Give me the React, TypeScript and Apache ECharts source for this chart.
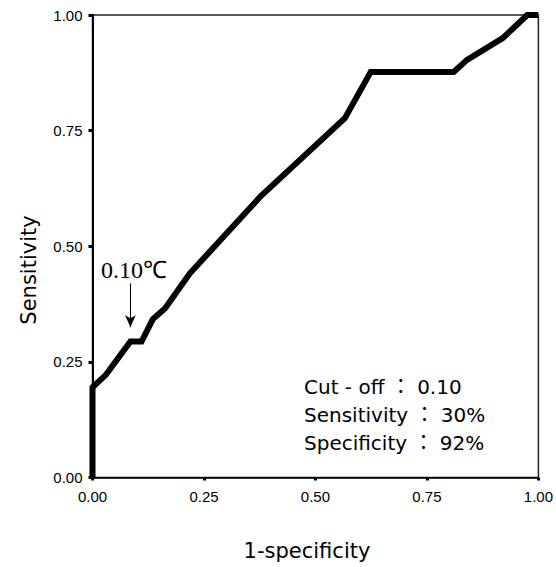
import React, { useEffect, useRef } from "react";
import * as echarts from "echarts";

const fpr = [0, 0, 0.03, 0.085, 0.11, 0.135, 0.163, 0.218, 0.377, 0.566, 0.624, 0.81, 0.84, 0.92, 0.975, 1.0];
const tpr = [0, 0.195, 0.222, 0.294, 0.294, 0.342, 0.366, 0.441, 0.608, 0.777, 0.877, 0.877, 0.903, 0.95, 1.0, 1.0];
const arrowFrom = [0.085, 0.42];
const arrowTo = [0.085, 0.325];
const noteLines = ["Cut - off ： 0.10", "Sensitivity ： 30%", "Specificity ： 92%"];
const cutoffLabel = "0.10℃";

export default function App() {
  const ref = useRef<HTMLDivElement>(null);
  useEffect(() => {
    if (!ref.current) return;
    const chart = echarts.init(ref.current, null, { renderer: "svg" });
    const data = fpr.map((x, i) => [x, tpr[i]]);
    chart.setOption({
      animation: false,
      backgroundColor: "#ffffff",
      grid: {
        left: 92.5,
        top: 15,
        width: 446.5,
        height: 462.5,
        show: true,
        borderColor: "#222",
        borderWidth: 1.5,
      },
      xAxis: {
        type: "value",
        min: 0,
        max: 1,
        interval: 0.25,
        splitLine: { show: false },
        axisLine: { lineStyle: { color: "#000", width: 1.5 } },
        axisTick: { length: 3, lineStyle: { color: "#000", width: 3 } },
        axisLabel: {
          color: "#000",
          fontSize: 15,
          fontFamily: "Liberation Sans",
          margin: 11,
          formatter: (v: number) => v.toFixed(2),
        },
      },
      yAxis: {
        type: "value",
        min: 0,
        max: 1,
        interval: 0.25,
        splitLine: { show: false },
        axisLine: { lineStyle: { color: "#000", width: 2 } },
        axisTick: { length: 4, lineStyle: { color: "#000", width: 3 } },
        axisLabel: {
          color: "#000",
          fontSize: 15,
          fontFamily: "Liberation Sans",
          margin: 10,
          formatter: (v: number) => v.toFixed(2),
        },
      },
      series: [
        {
          type: "line",
          data,
          symbol: "none",
          clip: false,
          lineStyle: { color: "#000", width: 6, join: "miter" },
          markLine: {
            silent: true,
            symbol: ["none", "arrow"],
            symbolSize: [8, 12],
            label: { show: false },
            lineStyle: { color: "#000", width: 1, type: "solid" },
            data: [[{ coord: arrowFrom }, { coord: arrowTo }]],
          },
        },
      ],
      graphic: [
        {
          type: "text",
          x: 29,
          y: 270,
          rotation: Math.PI / 2,
          style: {
            text: "Sensitivity",
            align: "center",
            verticalAlign: "middle",
            fontSize: 21,
            fontFamily: "DejaVu Sans",
            fill: "#000",
          },
        },
        {
          type: "text",
          x: 307,
          y: 551,
          style: {
            text: "1-specificity",
            align: "center",
            verticalAlign: "middle",
            fontSize: 21,
            fontFamily: "DejaVu Sans",
            fill: "#000",
          },
        },
        {
          type: "text",
          x: 101,
          y: 270,
          style: {
            text: cutoffLabel,
            align: "left",
            verticalAlign: "middle",
            fontSize: 24,
            fontFamily: "Liberation Serif",
            fill: "#000",
          },
        },
        ...noteLines.map((t, i) => ({
          type: "text",
          x: 304,
          y: 387 + i * 28,
          style: {
            text: t,
            align: "left",
            verticalAlign: "middle",
            fontSize: 20,
            fontFamily: "DejaVu Sans, Noto Sans CJK JP",
            fill: "#000",
          },
        })),
      ],
    });
    return () => chart.dispose();
  }, []);
  return (
    <div
      ref={ref}
      style={{ position: "fixed", left: 0, top: 0, width: 556, height: 567 }}
    />
  );
}
